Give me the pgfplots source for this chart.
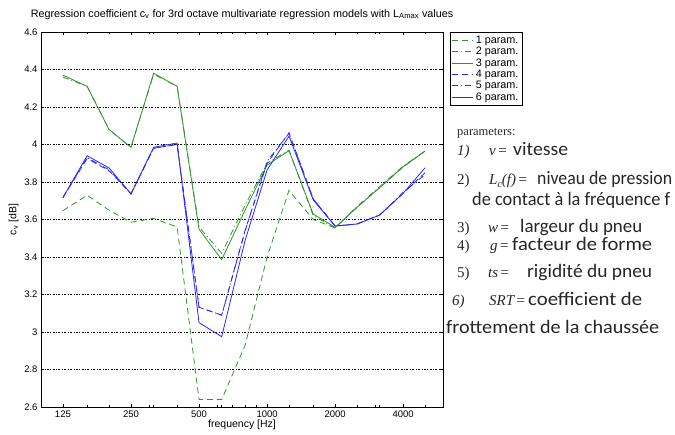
\documentclass[border=0pt]{standalone}
\usepackage{pgfplots}
\pgfplotsset{compat=1.18}
\usepackage{pgfplotstable}
\usepackage{fontspec}
\setmainfont{Liberation Sans}
\newfontfamily\fr{Carlito}
\newfontfamily\serif{Liberation Serif}

\definecolor{mgreen}{RGB}{50,145,50}
\definecolor{mblue}{RGB}{40,40,255}

% third octave regression coefficients c_v
\pgfplotstableread{
f    p1    p2    p3    p4    p5    p6
125  3.647 4.360 4.370 3.717 3.717 3.717
160  3.729 4.310 4.310 3.925 3.930 3.940
200  3.650 4.080 4.080 3.860 3.865 3.875
250  3.585 3.985 3.985 3.737 3.737 3.737
315  3.606 4.375 4.380 3.980 3.980 3.985
400  3.560 4.310 4.310 4.000 4.000 4.008
500  2.640 3.560 3.548 3.132 3.132 3.050
630  2.640 3.420 3.386 3.090 3.090 2.975
800  2.930 3.677 3.651 3.544 3.540 3.490
1000 3.400 3.900 3.890 3.900 3.910 3.864
1250 3.755 3.970 3.967 4.063 4.060 4.045
1600 3.600 3.620 3.629 3.710 3.710 3.704
2000 3.555 3.555 3.558 3.565 3.565 3.565
2500 3.665 3.670 3.665 3.576 3.576 3.576
3150 3.770 3.775 3.770 3.624 3.624 3.624
4000 3.880 3.885 3.882 3.740 3.745 3.740
5000 3.965 3.965 3.965 3.850 3.840 3.876
}\cv

% one line of the French text, brought to the width it has in the picture
\newcommand{\frline}[2]{\resizebox{#1}{\height}{\fr\fontsize{19bp}{22bp}\selectfont #2}}
\newcommand{\mth}{\serif\fontsize{15bp}{17bp}\selectfont}

\begin{document}
\begin{tikzpicture}
\path[use as bounding box] (0,0) rectangle (675bp,435bp);
\begin{axis}[
  at={(41bp,28bp)}, anchor=south west,
  scale only axis, width=402bp, height=375bp,
  xmode=log,
  xmin=100, xmax=6000,
  ymin=2.6, ymax=4.6,
  xtick={125,250,500,1000,2000,4000},
  xticklabels={125,250,500,1000,2000,4000},
  minor xtick={160,200,315,400,630,800,1250,1600,2500,3150,5000,300,600,700,900,3000,6000},
  ytick={2.6,2.8,...,4.61},
  yticklabel style={/pgf/number format/fixed},
  tick align=inside,
  major tick length=3bp, minor tick length=2bp,
  ymajorgrids,
  grid style={black, line width=0.5bp, dash pattern=on 2bp off 1.5bp on 0.8bp off 1.5bp},
  axis line style={line width=0.8bp},
  every tick/.style={black, line width=0.6bp},
  tick label style={font=\fontsize{9.5bp}{11bp}\selectfont},
  /pgf/number format/assume math mode=true,
  xlabel={frequency [Hz]},
  ylabel={c$_\mathrm{v}$ [dB]},
  label style={font=\fontsize{10.5bp}{12bp}\selectfont},
  xlabel style={yshift=4bp},
  ylabel style={yshift=-1bp},
  title={Regression coefficient c$_\mathrm{v}$ for 3rd octave multivariate regression models with L$_\mathrm{Amax}$ values},
  title style={font=\fontsize{10.8bp}{12bp}\selectfont, yshift=3bp},
  legend style={at={(1.018,1)}, anchor=north west, draw=black, line width=0.6bp,
    font=\fontsize{10.8bp}{11bp}\selectfont, inner sep=1.5bp, row sep=-1.6bp,
    cells={anchor=west}},
  legend image code/.code={\draw[#1] (0bp,0bp) -- (21bp,0bp);},
  every axis plot/.append style={line width=0.8bp},
]
\addplot[mgreen, dash pattern=on 6bp off 4bp] table[x=f,y=p1] {\cv};
\addplot[mgreen, dash pattern=on 6bp off 3bp on 1bp off 3bp] table[x=f,y=p2] {\cv};
\addplot[mgreen] table[x=f,y=p3] {\cv};
\addplot[mblue, dash pattern=on 6bp off 4bp] table[x=f,y=p4] {\cv};
\addplot[mblue, dash pattern=on 6bp off 3bp on 1bp off 3bp] table[x=f,y=p5] {\cv};
\addplot[mblue] table[x=f,y=p6] {\cv};
\legend{1 param.,2 param.,3 param.,4 param.,5 param.,6 param.}
\end{axis}

\begin{scope}[every node/.style={anchor=base west, inner sep=0pt, text=black!85}]
\node at (457bp,299bp) {\serif\fontsize{12.5bp}{14bp}\selectfont parameters:};
\node at (457bp,279bp) {\mth\itshape 1)};
\node at (489bp,279bp) {\mth\itshape v\upshape\,=};
\node at (513bp,279bp) {\frline{55bp}{vitesse}};
\node at (457bp,250bp) {\mth 2)};
\node at (489bp,250bp) {\mth\itshape L\raisebox{-0.3ex}{\fontsize{10bp}{11bp}\selectfont c}(f)\upshape\,=};
\node at (537bp,250bp) {\frline{135bp}{niveau de pression}};
\node at (472bp,229bp) {\frline{198bp}{de contact à la fréquence f}};
\node at (457bp,202bp) {\mth 3)};
\node at (488bp,202bp) {\mth\itshape w\upshape\,=};
\node at (520bp,202bp) {\frline{122bp}{largeur du pneu}};
\node at (457bp,184bp) {\mth 4)};
\node at (490bp,184bp) {\mth\itshape g\upshape\,=};
\node at (512bp,184bp) {\frline{140bp}{facteur de forme}};
\node at (457bp,157bp) {\mth 5)};
\node at (488bp,157bp) {\mth\itshape ts\upshape\,=};
\node at (527bp,157bp) {\frline{125bp}{rigidité du pneu}};
\node at (452bp,129bp) {\mth\itshape 6)};
\node at (489bp,129bp) {\mth\itshape SRT\upshape\,=};
\node at (528bp,129bp) {\frline{114bp}{coefficient de}};
\node at (446bp,101bp) {\frline{213bp}{frottement de la chaussée}};
\end{scope}
\end{tikzpicture}
\end{document}
